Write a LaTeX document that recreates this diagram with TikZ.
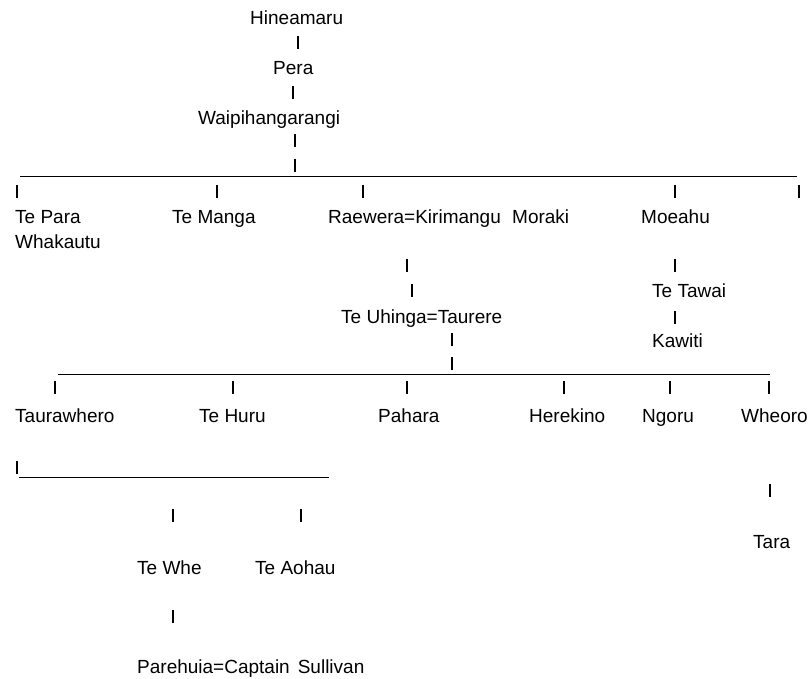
\documentclass[tikz,border=0pt]{standalone}
\usepackage{fontspec}
\setmainfont{Liberation Sans}

\begin{document}
\begin{tikzpicture}[x=1pt, y=-1pt,
    person/.style={anchor=base west, inner sep=0pt, font=\fontsize{19}{22}\selectfont},
    rule/.style={line width=1pt},
    bar/.style={line width=1.6pt}]
      \def\barlen{13}

      \useasboundingbox (0,0) rectangle (808,679);

      % top line
      \node[person] (hine) at (250,25) {Hineamaru};
      \node[person] (pera) at (273,75) {Pera};
      \node[person] (waip) at (198,125) {Waipihangarangi};

      % children of Waipihangarangi
      \draw[rule] (20,177) -- (797,177);
      \node[person] (tepara) at (15,223) {Te Para};
      \node[person] (whak) at (15,248) {Whakautu};
      \node[person] (temanga) at (172,223) {Te Manga};
      \node[person] (raewera) at (328,223) {Raewera=Kirimangu};
      \node[person] (moraki) at (512,223) {Moraki};
      \node[person] (moeahu) at (641,223) {Moeahu};

      \node[person] (uhinga) at (341,323) {Te Uhinga=Taurere};
      \node[person] (tawai) at (652,297) {Te Tawai};
      \node[person] (kawiti) at (652,347) {Kawiti};

      % children of Te Uhinga
      \draw[rule] (58,374) -- (770,374);
      \node[person] (tauraw) at (15,422) {Taurawhero};
      \node[person] (huru) at (199,422) {Te Huru};
      \node[person] (pahara) at (378,422) {Pahara};
      \node[person] (herekino) at (529,422) {Herekino};
      \node[person] (ngoru) at (642,422) {Ngoru};
      \node[person] (wheoro) at (741,422) {Wheoro};
      \node[person] (tara) at (753,548) {Tara};

      % children of Taurawhero
      \draw[rule] (19,477) -- (329,477);
      \node[person] (tewhe) at (137,574) {Te Whe};
      \node[person] (aohau) at (255,574) {Te Aohau};
      \node[person] (parehuia) at (137,673) {Parehuia=Captain\hspace{8pt}Sullivan};

      \foreach \x/\y in {298/36, 293/86, 295/134, 295/159,
                         17/185, 217/185, 363/185, 675/185, 799/185,
                         407/259, 412/284, 675/259, 675/311,
                         452/333, 452/357,
                         55/381, 233/381, 407/381, 564/381, 670/381, 769/381,
                         17/461, 173/509, 301/509, 173/610, 770/484}
        \draw[bar] (\x,\y) -- ++(0,\barlen);

    \end{tikzpicture}
\end{document}
